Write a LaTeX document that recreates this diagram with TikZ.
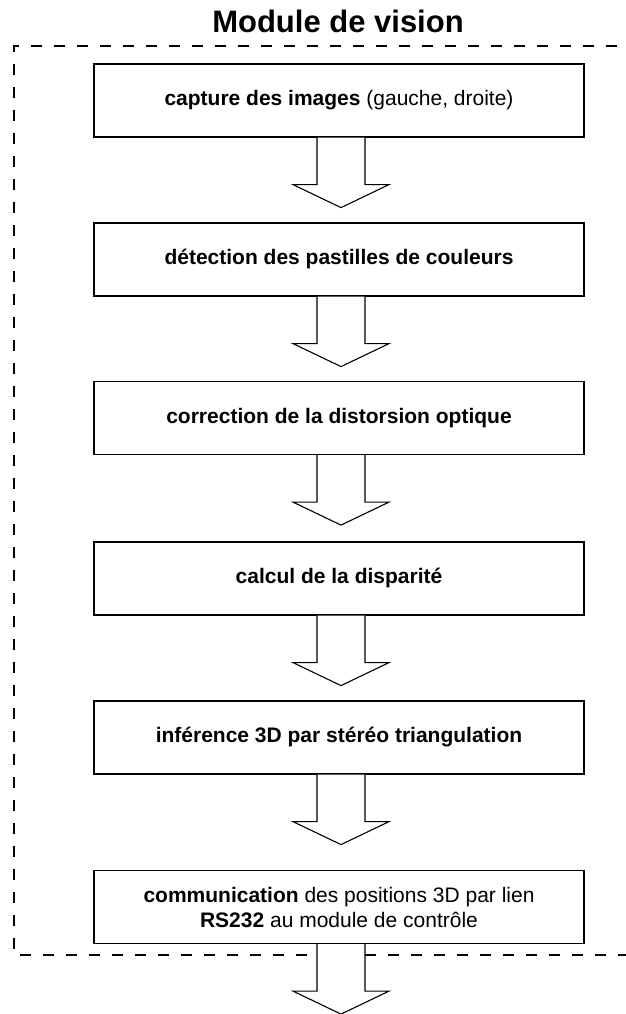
\documentclass[tikz,border=0pt]{standalone}
\usepackage{fontspec}
\setmainfont{Liberation Sans}
\usetikzlibrary{calc}
\newcommand\blockarr[1]{\draw[blockarrow] ($(#1.south)+(-22,0)$) -- ++(0,47) -- ++(-24,0) -- ++(48,23) -- ++(48,-23) -- ++(-24,0) -- ++(0,-47);}
\begin{document}
\begin{tikzpicture}[x=1pt,y=-1pt,
  boxbase/.style={draw=black, line width=1.2pt, minimum width=490pt, minimum height=73pt, inner sep=0pt, align=center, font=\fontsize{21}{25}\selectfont, fill=white},
  oneline/.style={boxbase, text height=15pt, text depth=5pt},
  blockarrow/.style={draw=black, line width=1.1pt, fill=white, line join=miter},
  frame/.style={line width=1.8pt, dash pattern=on 11pt off 12pt}]
\useasboundingbox (0,0) rectangle (625,1014);
\draw[frame] (640,46) -- (14,46) -- (14,955) -- (640,955);
\node[font=\fontsize{31}{36}\selectfont\bfseries, anchor=base] (title) at (338,33) {Module de vision};
\node[oneline] (b1) at (339,100.5) {\textbf{capture des images} (gauche, droite)};
\node[oneline] (b2) at (339,259.5) {\textbf{détection des pastilles de couleurs}};
\node[oneline] (b3) at (339,418) {\textbf{correction de la distorsion optique}};
\node[oneline] (b4) at (339,578.5) {\textbf{calcul de la disparité}};
\node[oneline] (b5) at (339,737.5) {\textbf{inférence 3D par stéréo triangulation}};
\node[boxbase] (b6) at (339,907) {\textbf{communication} des positions 3D par lien\\\textbf{RS232} au module de contrôle};
\blockarr{b1}
\blockarr{b2}
\blockarr{b3}
\blockarr{b4}
\blockarr{b5}
\blockarr{b6}
\end{tikzpicture}
\end{document}
